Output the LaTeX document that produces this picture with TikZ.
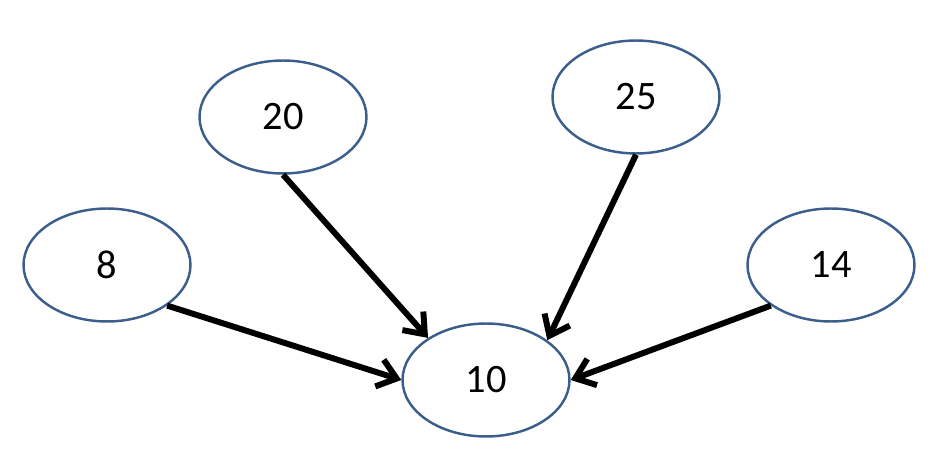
\documentclass[tikz,border=0pt]{standalone}
\usepackage{fontspec}
\setmainfont{Carlito}
\usetikzlibrary{shapes.geometric}
\usetikzlibrary{arrows.meta}

\definecolor{ovalblue}{HTML}{3B5E8C}

\tikzset{
    vertex/.style={draw=ovalblue, line width=1.4pt, ellipse, inner sep=0pt,
        minimum width=3.34cm, minimum height=2.26cm,
        font=\fontsize{23}{27}\selectfont},
    link/.style={line width=3.4pt, -{Straight Barb[length=0.36cm,width=0.56cm]}}
}

\begin{document}
\begin{tikzpicture}[x=0.02cm, y=-0.02cm]
    % Frame
    \useasboundingbox (0,0) rectangle (938,459);

    % Outer vertices
    \node[vertex] (n20) at (283,117) {20};
    \node[vertex] (n25) at (636,97) {25};
    \node[vertex] (n8) at (107,265) {8};
    \node[vertex] (n14) at (831,265) {14};

    % Target vertex
    \node[vertex] (n10) at (486,380) {10};

    % Edges into 10
    \draw[link] (n8.-34) -- (n10.west);
    \draw[link] (n20.south) -- (n10.144);
    \draw[link] (n25.south) -- (n10.33);
    \draw[link] (n14.214) -- (n10.east);
\end{tikzpicture}
\end{document}
